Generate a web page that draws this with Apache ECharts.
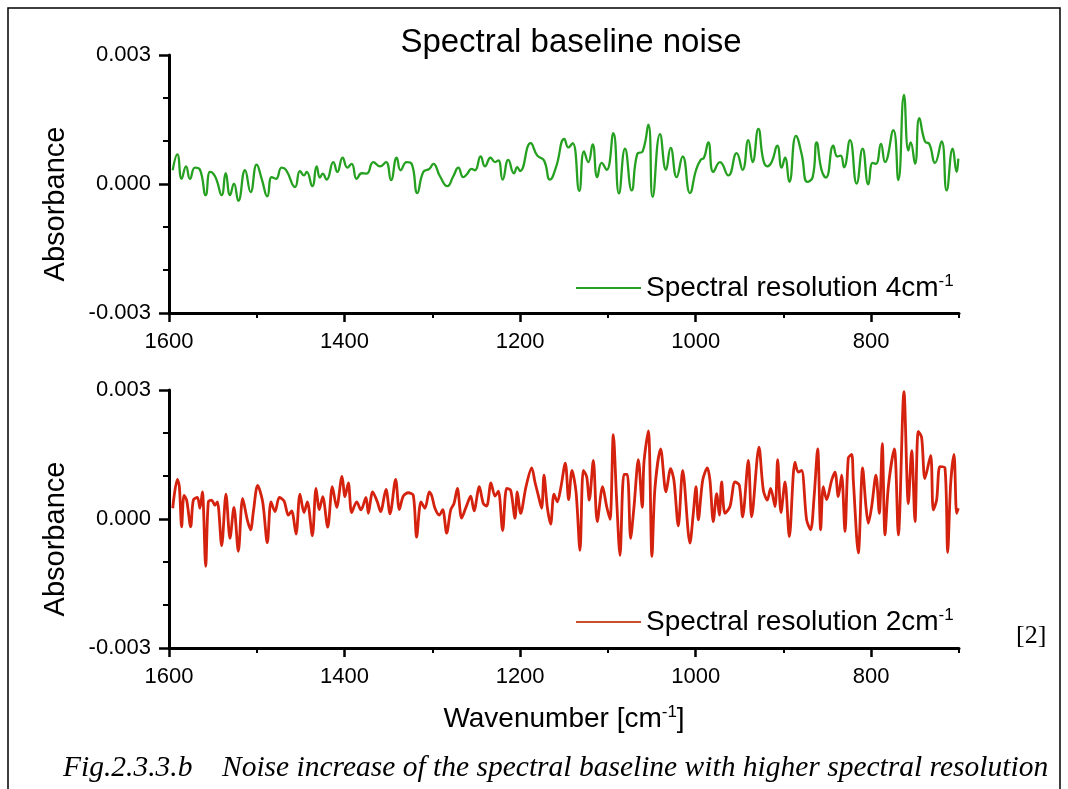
<!DOCTYPE html>
<html>
<head>
    <meta charset="utf-8">
    <title>Spectral baseline noise</title>
    <script src="https://cdn.jsdelivr.net/npm/echarts/dist/echarts.min.js"></script>
    <style>
        html, body { margin: 0; padding: 0; background: #fff; }
        #chart { width: 1068px; height: 789px; }
    </style>
</head>
<body>
<div id="chart"></div>
<script type="text/javascript">
    // wavenumber [cm-1] and absorbance (x 1e-3)
    var wn4 = [1595.8,1590.5,1585.6,1580.6,1576.1,1570.4,1564.7,1558.2,1553.3,1549.5,1545.7,1540.0,1535.4,1530.5,1526.0,1521.0,1513.4,1507.0,1500.1,1494.4,1488.0,1483.0,1478.1,1471.7,1466.7,1456.4,1450.8,1446.2,1443.2,1436.7,1431.8,1428.0,1424.9,1420.4,1412.8,1408.2,1402.2,1396.8,1391.9,1386.2,1380.5,1374.8,1367.2,1359.6,1352.8,1347.1,1340.6,1336.1,1329.3,1323.6,1317.1,1310.3,1303.4,
        1298.9,1291.3,1282.9,1276.1,1270.4,1264.7,1260.9,1255.2,1251.4,1245.0,1240.0,1233.6,1228.6,1224.8,1219.9,1213.4,1207.0,1203.2,1200.1,1188.0,1180.4,1172.8,1166.0,1159.1,1149.6,1145.0,1140.1,1132.6,1127.2,1122.3,1117.4,1112.1,1107.1,1101.4,1093.8,1087.4,1080.5,1072.9,1066.5,1060.4,1053.9,1049.0,1040.6,1033.8,1028.5,1021.7,1014.8,
        1006.5,999.6,994.3,990.5,985.6,979.9,972.3,962.8,953.3,946.5,940.0,935.1,928.6,922.9,918.4,913.4,907.0,902.0,898.2,893.3,885.7,879.3,872.8,866.7,862.2,856.5,851.5,843.2,838.6,834.8,831.0,824.2,816.6,809.8,803.3,798.4,794.6,788.9,784.3,774.8,769.1,762.7,757.7,755.1,750.1,745.2,738.8,733.8,727.4,719.8,714.1,707.2,702.7,700.8];
    var abs4 = [0.32,0.69,0.12,0.41,0.12,0.38,0.33,-0.26,0.28,0.24,0.09,-0.26,0.25,-0.26,0.01,-0.39,0.32,-0.19,0.45,0.12,-0.29,0.16,0.12,0.38,0.33,-0.07,0.30,0.20,0.28,-0.05,0.41,0.15,0.24,0.10,0.51,0.28,0.61,0.38,0.47,0.12,0.25,0.24,0.51,0.41,0.51,0.09,0.61,0.32,0.51,0.47,-0.21,0.28,0.35,
        0.47,0.18,-0.05,0.18,0.38,0.16,0.22,0.35,0.32,0.64,0.41,0.61,0.51,0.55,0.10,0.56,0.25,0.39,0.30,0.95,0.66,0.55,0.10,0.39,1.05,0.85,0.95,-0.16,0.76,0.51,0.92,0.16,0.49,0.33,1.18,-0.22,0.82,-0.15,0.70,0.76,1.38,-0.30,1.16,0.33,0.84,0.16,0.64,
        -0.21,0.32,0.56,0.61,0.97,0.28,0.51,0.20,0.72,0.33,1.02,0.51,1.28,0.55,0.41,0.51,0.89,0.38,0.61,0.05,1.12,0.70,0.05,0.16,0.97,0.32,0.15,0.89,0.64,0.66,0.39,1.02,0.01,0.82,-0.01,0.49,0.47,0.93,0.51,1.25,0.09,2.07,0.78,0.97,0.47,1.53,0.99,0.93,0.49,0.99,-0.15,0.82,0.28,0.59];

    var wn2 = [1595.8,1590.5,1588.2,1585.6,1582.9,1579.9,1575.3,1572.3,1567.7,1564.7,1562.0,1558.2,1555.2,1551.4,1547.6,1544.9,1540.0,1535.1,1530.5,1526.0,1521.0,1516.1,1510.8,1507.0,1503.9,1499.0,1493.3,1488.0,1483.8,1479.2,1474.3,1469.0,1464.0,1460.3,1455.3,1450.8,1446.2,1442.4,1436.7,1432.5,1428.7,1424.9,1419.2,1413.9,1409.0,1402.9,1399.5,1395.7,1391.9,1386.2,1381.3,1375.6,1372.9,1368.0,1362.7,1358.9,1352.8,1348.2,1341.8,1337.6,1333.1,1327.4,1321.7,1317.9,1312.9,1308.4,1303.4,
        1300.8,1297.0,1292.0,1288.2,1283.7,1279.1,1275.3,1271.5,1266.6,1261.7,1256.3,1252.5,1246.5,1241.9,1238.1,1233.2,1228.6,1224.8,1219.9,1215.3,1210.8,1205.8,1203.2,1199.4,1193.3,1186.8,1183.1,1179.3,1175.5,1172.8,1169.0,1165.2,1161.4,1157.6,1153.8,1148.5,1144.7,1140.9,1136.3,1131.8,1128.0,1124.2,1121.2,1116.6,1112.1,1106.0,1101.4,1097.6,1093.8,1090.0,1086.2,1081.7,1077.9,1074.1,1070.3,1065.3,1060.8,1058.9,1053.9,1049.8,1046.4,1039.9,1033.8,1028.5,1024.7,1019.8,1014.8,
        1006.5,1002.7,999.6,997.0,992.0,986.7,983.7,979.9,976.1,973.0,970.4,966.6,960.9,955.2,950.3,946.5,940.0,936.2,927.9,922.9,918.4,914.6,909.6,906.6,902.8,898.2,893.3,886.9,883.1,879.3,873.6,869.0,865.2,861.0,857.6,854.6,850.8,845.1,841.3,837.5,833.7,829.9,826.1,822.3,820.4,814.7,809.8,806.0,803.3,799.5,794.6,790.8,787.4,784.3,780.5,773.7,769.1,762.7,757.7,753.9,750.1,746.4,742.6,738.8,732.3,729.3,725.5,721.7,716.0,712.9,709.5,705.7,702.7,700.8];
    var abs2 = [0.25,0.92,0.75,-0.18,0.55,0.44,-0.18,0.44,0.50,0.25,0.63,-1.10,0.40,0.44,0.32,0.40,-0.62,0.58,-0.45,0.27,-0.75,0.48,-0.02,-0.25,0.17,0.78,0.40,-0.55,0.40,0.17,0.50,0.42,0.09,0.19,-0.35,0.58,0.15,0.40,-0.39,0.71,0.22,0.52,-0.19,0.75,0.27,0.99,0.52,0.84,0.15,0.40,0.21,0.50,0.13,0.63,0.40,0.17,0.69,0.12,0.92,0.22,0.53,0.61,0.55,-0.42,0.40,0.25,0.63,
        0.55,0.25,0.09,0.22,-0.33,0.21,0.36,0.71,0.02,0.27,0.53,0.19,0.75,0.36,0.30,0.84,0.53,0.65,-0.27,0.71,0.67,0.02,0.63,0.13,0.75,1.19,0.86,0.55,0.25,1.02,0.27,-0.12,0.58,0.40,0.71,1.30,0.45,1.13,0.63,-0.73,1.13,0.99,0.44,1.36,-0.06,0.75,0.29,-0.01,1.96,0.44,-0.85,1.04,1.04,-0.45,0.27,1.38,0.27,1.32,2.05,-0.87,0.71,1.63,0.63,1.17,0.89,-0.16,1.13,
        -0.56,0.13,0.75,-0.02,0.90,1.19,0.90,-0.06,0.59,0.09,0.86,0.13,0.29,0.86,0.79,0.05,1.36,0.05,1.67,0.67,0.44,0.71,0.29,1.38,0.15,0.86,-0.41,1.32,1.09,1.13,-0.02,-0.25,0.48,1.63,-0.25,0.75,0.45,0.90,1.09,0.52,1.02,-0.29,1.42,1.50,0.90,-0.79,1.19,0.29,-0.10,0.29,1.02,0.13,1.75,-0.37,0.75,1.63,-0.37,2.96,0.36,1.59,-0.06,2.04,1.90,0.94,1.48,0.21,0.44,1.22,1.19,-0.78,0.82,1.50,0.13,0.25];

    var xMajor = [800, 1000, 1200, 1400, 1600];
    var xMinor = [700, 900, 1100, 1300, 1500];
    var names = ['Spectral resolution 4cm-1', 'Spectral resolution 2cm-1'];

    function pairs(wn, ab) {
        return wn.map(function (w, i) { return [w, ab[i] / 1000]; });
    }

    var font = 'Liberation Sans';
    var supRich = {
        sup: { fontSize: 17, lineHeight: 17, verticalAlign: 'top', fontFamily: font, color: '#000' }
    };

    function xAxes(grid, withName) {
        var main = {
            type: 'value', gridIndex: grid, position: 'bottom', min: 700, max: 1600, inverse: true,
            axisLine: { onZero: false, lineStyle: { color: '#000', width: 3 } },
            axisTick: { customValues: xMajor, length: 9, lineStyle: { color: '#000', width: 2.5 } },
            axisLabel: {
                customValues: xMajor, fontSize: 22, margin: 18, color: '#000', fontFamily: font,
                formatter: function (v) { return String(v); }
            },
            splitLine: { show: false }
        };
        if (withName) {
            main.name = 'Wavenumber [cm{sup|-1}]';
            main.nameLocation = 'middle';
            main.nameGap = 56;
            main.nameTextStyle = { fontSize: 28, color: '#000', fontFamily: font, lineHeight: 30, rich: supRich };
        }
        var minor = {
            type: 'value', gridIndex: grid, position: 'bottom', min: 700, max: 1600, inverse: true,
            axisLine: { show: false, onZero: false },
            axisTick: { customValues: xMinor, length: 5, lineStyle: { color: '#000', width: 2 } },
            axisLabel: { show: false },
            splitLine: { show: false }
        };
        return [main, minor];
    }

    function yAxis(grid) {
        return {
            type: 'value', gridIndex: grid, min: -0.003, max: 0.003, interval: 0.003,
            name: 'Absorbance', nameLocation: 'middle', nameGap: 99,
            nameTextStyle: { fontSize: 29, color: '#000', fontFamily: font, padding: [0, 40, 0, 0] },
            axisLine: { onZero: false, lineStyle: { color: '#000', width: 3 } },
            axisTick: { length: 10, lineStyle: { color: '#000', width: 2.5 } },
            minorTick: { show: true, splitNumber: 3, length: 6, lineStyle: { color: '#000', width: 2 } },
            axisLabel: {
                fontSize: 22, margin: 18, color: '#000', fontFamily: font,
                formatter: function (v) { return v.toFixed(3); }
            },
            splitLine: { show: false }
        };
    }

    function legend(top, name) {
        return {
            data: [name], left: 576, top: top, padding: 0,
            icon: 'rect', itemWidth: 65, itemHeight: 2,
            formatter: function (n) { return n.replace('cm-1', 'cm{sup|-1}'); },
            textStyle: { fontSize: 28, lineHeight: 30, color: '#000', fontFamily: font, rich: supRich }
        };
    }

    var myChart = echarts.init(document.getElementById('chart'));
    myChart.setOption({
        animation: false,
        backgroundColor: '#fff',
        title: {
            text: 'Spectral baseline noise', left: 566, top: 21, textAlign: 'center',
            textStyle: { fontSize: 33, fontWeight: 'normal', color: '#000', fontFamily: font }
        },
        grid: [
            { left: 169, top: 55, width: 790, height: 258 },
            { left: 169, top: 390, width: 790, height: 258 }
        ],
        xAxis: xAxes(0, false).concat(xAxes(1, true)),
        yAxis: [yAxis(0), yAxis(1)],
        legend: [legend(273, names[0]), legend(607, names[1])],
        series: [
            {
                name: names[0], type: 'line', xAxisIndex: 0, yAxisIndex: 0,
                data: pairs(wn4, abs4), symbol: 'none', smooth: 0.5,
                lineStyle: { color: '#25a020', width: 2.3 }, itemStyle: { color: '#25a020' }
            },
            {
                name: names[1], type: 'line', xAxisIndex: 2, yAxisIndex: 1,
                data: pairs(wn2, abs2), symbol: 'none', smooth: 0.3,
                lineStyle: { color: '#d4220e', width: 2.8 }, itemStyle: { color: '#c8502a' }
            }
        ],
        graphic: [
            {
                type: 'rect', z: -1, silent: true,
                shape: { x: 8, y: 8, width: 1052, height: 800 },
                style: { fill: 'none', stroke: '#000', lineWidth: 1.5 }
            },
            {
                type: 'text', left: 1016, top: 623,
                style: { text: '[2]', font: '26px "Liberation Serif"', fill: '#000' }
            },
            {
                type: 'text', left: 63, top: 753,
                style: {
                    text: 'Fig.2.3.3.b    Noise increase of the spectral baseline with higher spectral resolution',
                    font: 'italic 29.5px "Liberation Serif"', fill: '#000'
                }
            }
        ]
    });
</script>
</body>
</html>
